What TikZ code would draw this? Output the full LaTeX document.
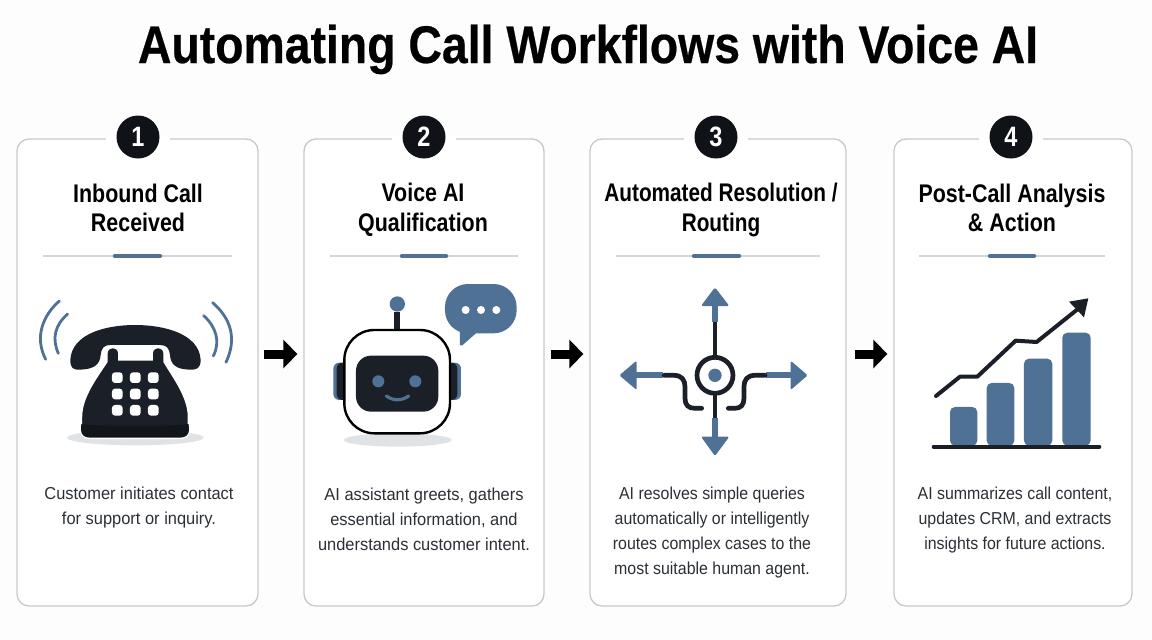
\documentclass[tikz,border=0pt]{standalone}
\usepackage{fontspec}
\usetikzlibrary{arrows.meta,calc}
\setmainfont{Liberation Sans}
\newfontfamily\titlef[FakeStretch=0.875,FakeBold=0.4]{Liberation Sans Bold}
\newfontfamily\headf[FakeStretch=0.84]{Liberation Sans Bold}
\newfontfamily\headnarrow[FakeStretch=0.815]{Liberation Sans Bold}
\newfontfamily\bodyf[FakeStretch=0.95]{Liberation Sans}
\newfontfamily\bodynarrow[FakeStretch=0.92]{Liberation Sans}
\definecolor{ink}{HTML}{1B2028}
\definecolor{badgeink}{HTML}{0F1216}
\definecolor{steel}{HTML}{4F7196}
\definecolor{edgegrey}{HTML}{C6CACD}
\definecolor{rulegrey}{HTML}{D3D7DA}
\definecolor{shadowgrey}{HTML}{DFE3E6}
\definecolor{pagebg}{HTML}{FDFDFD}
\definecolor{bodyink}{HTML}{2B3037}
\tikzset{
  card/.style={draw=edgegrey,line width=1.3pt,fill=white,rounded corners=12pt,inner sep=0pt},
  badge/.style={circle,fill=badgeink,text=white,minimum size=43pt,inner sep=0pt,font=\headf\fontsize{28}{28}\selectfont},
  heading/.style={align=center,text=black,inner sep=0pt,font=\headf\fontsize{25.5}{29.5}\selectfont},
  bodytext/.style={align=center,text=bodyink,inner sep=0pt,font=\bodyf\fontsize{17.3}{25}\selectfont},
  flowarrow/.style={line width=9pt,black,-{Triangle[length=14pt,width=28pt]}},
  hair/.style={rulegrey,line width=1.3pt},
  accent/.style={steel,line width=4.5pt,line cap=round},
  wave/.style={steel,line width=2.8pt,line cap=round},
  darkline/.style={ink,line width=4.7pt},
  blueline/.style={steel,line width=6pt},
  icon/.style={x=0.3333pt,y=-0.3333pt},
}
\begin{document}
\begin{tikzpicture}[x=1pt,y=-1pt]
\useasboundingbox (0,0) rectangle (1152,640);
\fill[pagebg] (0,0) rectangle (1152,640);
\node[font=\titlef\fontsize{53}{53}\selectfont,text=black,inner sep=0pt,anchor=base] (title) at (588,63) {Automating Call Workflows with Voice AI};

\node[card,minimum width=241pt,minimum height=467pt] (c1) at (137.5,372.5) {};
\node[card,minimum width=240pt,minimum height=467pt] (c2) at (424,372.5) {};
\node[card,minimum width=256pt,minimum height=467pt] (c3) at (718,372.5) {};
\node[card,minimum width=238pt,minimum height=467pt] (c4) at (1013,372.5) {};

\foreach \gx in {138,424,716,1011}
  \fill[white] (\gx-32,136) rectangle (\gx+32,142);

\node[badge] (b1) at (138,137) {1};
\node[badge] (b2) at (424,137) {2};
\node[badge] (b3) at (716,137) {3};
\node[badge] (b4) at (1011,137) {4};

\node[heading] (h1) at (138,208) {Inbound Call\\Received};
\node[heading] (h2) at (423,210) {Voice AI\\Qualification};
\node[heading,font=\headnarrow\fontsize{25.5}{29.5}\selectfont] (h3) at (721,210) {Automated Resolution /\\Routing};
\node[heading] (h4) at (1012,208) {Post-Call Analysis\\\& Action};

\draw[hair] (43,256) -- (232,256);
\draw[hair] (330,256) -- (518,256);
\draw[hair] (616,256) -- (820,256);
\draw[hair] (919,256) -- (1105,256);
\draw[accent] (115,256) -- (160,256);
\draw[accent] (402,256) -- (446,256);
\draw[accent] (694,256) -- (739,256);
\draw[accent] (990,256) -- (1034,256);

\node[bodytext] (t1) at (139,508) {Customer initiates contact\\for support or inquiry.};
\node[bodytext] (t2) at (424,519) {AI assistant greets, gathers\\essential information, and\\understands customer intent.};
\node[bodytext,font=\bodynarrow\fontsize{17.3}{25}\selectfont] (t3) at (712,533) {AI resolves simple queries\\automatically or intelligently\\routes complex cases to the\\most suitable human agent.};
\node[bodytext,font=\bodynarrow\fontsize{17.3}{25}\selectfont] (t4) at (1015,520) {AI summarizes call content,\\updates CRM, and extracts\\insights for future actions.};

\draw[flowarrow] ($(c1.east)+(5,-18.5)$) -- ($(c2.west)+(-6,-18.5)$);
\draw[flowarrow] ($(c2.east)+(6,-18.5)$) -- ($(c3.west)+(-6,-18.5)$);
\draw[flowarrow] ($(c3.east)+(8,-18.5)$) -- ($(c4.west)+(-6,-18.5)$);

% telephone
\begin{scope}[shift={(10,270)},icon]
\fill[shadowgrey] (376,503) ellipse [x radius=205,y radius=23];
\draw[wave] (148,93) .. controls (100,135) and (72,200) .. (107,268);
\draw[wave] (173,132) .. controls (135,165) and (125,205) .. (145,250);
\draw[wave] (608,98) .. controls (662,145) and (682,205) .. (648,277);
\draw[wave] (581,137) .. controls (618,170) and (632,215) .. (610,258);
\fill[ink] (181,270) .. controls (185,190) and (290,165) .. (375,165)
  .. controls (460,165) and (568,190) .. (572,270)
  .. controls (572,295) and (560,300) .. (540,299)
  .. controls (500,298) and (482,285) .. (480,255)
  .. controls (478,235) and (470,225) .. (450,225)
  -- (300,225) .. controls (282,225) and (274,235) .. (272,255)
  .. controls (270,285) and (250,298) .. (210,299)
  .. controls (190,300) and (181,295) .. (181,270) -- cycle;
\path[fill=ink,draw=white,line width=2.5pt] (289,250)
  .. controls (289,225) and (328,225) .. (328,250) -- (328,268) -- (425,268) -- (425,250)
  .. controls (425,225) and (464,225) .. (464,250) -- (464,275)
  .. controls (490,320) and (537,380) .. (537,440) -- (537,480)
  .. controls (537,495) and (525,504) .. (510,504) -- (240,504)
  .. controls (225,504) and (213,495) .. (213,480) -- (213,440)
  .. controls (213,380) and (260,320) .. (289,275) -- cycle;
\fill[black!35!ink] (214,462) .. controls (260,470) and (490,470) .. (536,462) -- (537,480)
  .. controls (537,495) and (525,503) .. (510,503) -- (240,503)
  .. controls (225,503) and (213,495) .. (213,480) -- cycle;
\foreach \kx in {322,376,430}
  \foreach \ky in {323,372,421}
    \fill[white,rounded corners=3pt] (\kx-16,\ky-16) rectangle (\kx+16,\ky+16);
\end{scope}

% robot
\begin{scope}[shift={(310,270)},icon]
\fill[shadowgrey] (263,510) ellipse [x radius=162,y radius=20];
\fill[steel,rounded corners=6pt] (70,278) rectangle (110,390);
\fill[steel,rounded corners=6pt] (415,278) rectangle (453,390);
\fill[ink,rounded corners=6pt] (80,278) rectangle (115,390);
\fill[ink,rounded corners=6pt] (410,278) rectangle (442,390);
\fill[ink] (253,125) rectangle (271,185);
\fill[steel] (262,102) circle [radius=23];
\draw[black,fill=white,line width=2.4pt,rounded corners=30pt] (103,180) rectangle (420,490);
\fill[ink,rounded corners=15pt] (138,257) rectangle (385,425);
\fill[steel] (205,334) circle [radius=18];
\fill[steel] (316,334) circle [radius=18];
\draw[steel,line width=3.2pt,line cap=round] (229,378) .. controls (250,393) and (275,393) .. (296,378);
\fill[steel,rounded corners=23pt] (405,42) rectangle (620,190);
\fill[steel,line join=round] (450,165) -- (450,226) -- (457,226) -- (500,188) -- cycle;
\foreach \dx in {467,513,559} \fill[white] (\dx,120) circle [radius=12];
\end{scope}

% router
\begin{scope}[shift={(600,270)},icon]
\draw[blueline] (345,155) -- (345,100);
\draw[blueline] (345,445) -- (345,505);
\draw[blueline] (190,316) -- (105,316);
\draw[blueline] (498,316) -- (577,316);
\fill[steel,rounded corners=1.5pt] (345,52) -- (388,108) -- (303,108) -- cycle;
\fill[steel,rounded corners=1.5pt] (345,558) -- (388,500) -- (303,500) -- cycle;
\fill[steel,rounded corners=1.5pt] (58,316) -- (110,272) -- (110,360) -- cycle;
\fill[steel,rounded corners=1.5pt] (623,316) -- (572,272) -- (572,360) -- cycle;
\draw[darkline] (345,155) -- (345,262);
\draw[darkline] (345,370) -- (345,445);
\draw[darkline,line cap=round] (193,316) -- (222,316) .. controls (245,316) and (255,330) .. (255,350) -- (255,385) .. controls (255,405) and (265,415) .. (285,415) -- (305,415);
\draw[darkline,line cap=round] (495,316) -- (465,316) .. controls (442,316) and (432,330) .. (432,350) -- (432,385) .. controls (432,405) and (422,415) .. (405,415) -- (385,415);
\draw[darkline] (345,316) circle [radius=54];
\fill[steel] (345,316) circle [radius=20];
\end{scope}

% chart
\begin{scope}[shift={(900,280)},icon]
\fill[steel,rounded corners=5pt] (150,497) -- (150,381) -- (232,381) -- (232,497) -- cycle;
\fill[steel,rounded corners=5pt] (260,497) -- (260,309) -- (343,309) -- (343,497) -- cycle;
\fill[steel,rounded corners=5pt] (372,497) -- (372,236) -- (457,236) -- (457,497) -- cycle;
\fill[steel,rounded corners=5pt] (487,497) -- (487,158) -- (572,158) -- (572,497) -- cycle;
\draw[ink,line width=4pt,line cap=round] (101,500) -- (598,500);
\draw[ink,line width=4pt,line cap=round,line join=round] (108,348) -- (180,290) -- (232,290) -- (347,182) -- (410,186) -- (535,86);
\fill[ink,line join=round] (565,55) -- (507,65) -- (552,112) -- cycle;
\end{scope}
\end{tikzpicture}
\end{document}
